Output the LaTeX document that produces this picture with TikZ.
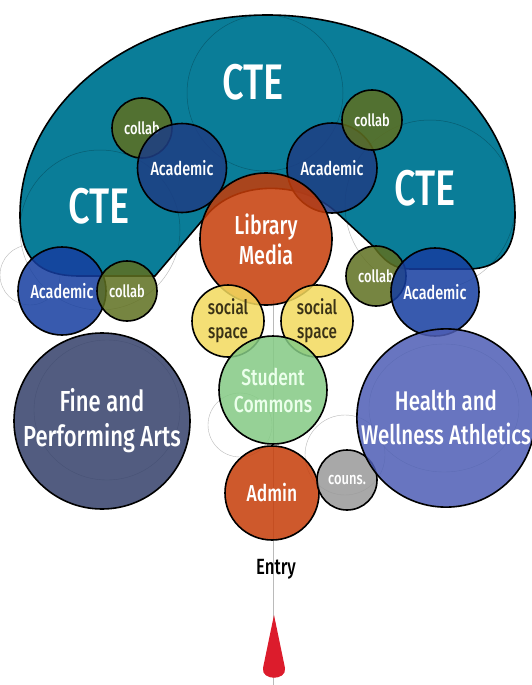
\documentclass[tikz,border=0pt]{standalone}
\usepackage{fontspec}
\setmainfont{Fira Sans}[FakeStretch=0.76, UprightFont={* Medium}]
\definecolor{teal1}{RGB}{10,125,152}
\definecolor{acadk}{RGB}{30,62,132}
\definecolor{acadl}{RGB}{22,62,160}
\definecolor{collabg}{RGB}{95,112,32}
\definecolor{orng}{RGB}{198,60,8}
\definecolor{soc}{RGB}{243,218,94}
\definecolor{socT}{RGB}{58,50,22}
\definecolor{comm}{RGB}{132,202,132}
\definecolor{cgray}{RGB}{153,153,153}
\definecolor{fine}{RGB}{52,64,106}
\definecolor{hlth}{RGB}{78,94,181}
\definecolor{dropr}{RGB}{220,28,44}
\tikzset{
  bub/.style={circle, draw=black, line width=1.6pt, fill opacity=0.85, text opacity=1,
    inner sep=0pt, align=center, text=white},
  sketch/.style={draw=black!60, line width=0.4pt, opacity=0.45},
  tsketch/.style={draw=black, line width=0.5pt, opacity=0.25},
  big/.style={text=white, inner sep=0pt}
}
\newcommand{\fs}[2]{\fontsize{#1}{#2}\selectfont}
\begin{document}
\begin{tikzpicture}[x=1pt,y=-1pt]
\useasboundingbox (0,0) rectangle (531,685);
\fill[white] (0,0) rectangle (531,685);
% faint sketch lines
\draw[sketch] (273,300) -- (273,685);
\draw[sketch] (107,410) ellipse [x radius=73, y radius=70];
\draw[sketch] (444,408) ellipse [x radius=75, y radius=64];
\draw[sketch] (345,455) circle [radius=40];
\draw[sketch] (240,425) circle [radius=32];
\draw[sketch] (30,275) circle [radius=30];
% CTE horseshoe
\draw[fill=teal1, line width=1.6pt]
  (155,276) -- (206,216) .. controls (235,180) and (300,180) .. (335,211)
  -- (374,247) .. controls (385,262) and (395,269) .. (410,269) -- (470,269)
  .. controls (500,268) and (515,250) .. (515,215)
  .. controls (515,104) and (404,15) .. (267.5,15)
  .. controls (131,15) and (20,104) .. (20,215)
  .. controls (20,260) and (40,276) .. (80,276) -- cycle;
\draw[tsketch] (265,93) circle [radius=78];
\draw[tsketch] (100,230) circle [radius=80];
\draw[tsketch] (430,205) circle [radius=85];
\node[big, font=\fs{50}{50}] (cte1) at (253,82) {CTE};
\node[big, font=\fs{50}{50}] (cte2) at (99,206) {CTE};
\node[big, font=\fs{50}{50}] (cte3) at (425,188) {CTE};
% academic / collab
\node[bub, fill=collabg, minimum size=60pt, font=\fs{17}{17}] (col1) at (142,128) {collab};
\node[bub, fill=acadk, minimum size=89pt, font=\fs{19}{19}] (ac1) at (182,168) {Academic};
\node[bub, fill=acadk, minimum size=90pt, font=\fs{19}{19}] (ac2) at (332,168) {Academic};
\node[bub, fill=collabg, minimum size=60pt, font=\fs{17}{17}] (col2) at (372,120) {collab};
\node[bub, fill=acadl, minimum size=88pt, font=\fs{19}{19}] (ac3) at (62,291) {Academic};
\node[bub, fill=collabg, minimum size=60pt, font=\fs{17}{17}] (col3) at (127,291) {collab};
\node[bub, fill=collabg, minimum size=60pt, font=\fs{17}{17}] (col4) at (376,276) {collab};
\node[bub, fill=acadl, minimum size=88pt, font=\fs{19}{19}] (ac4) at (435,292) {Academic};
% center spine
\node[bub, fill=orng, minimum size=132pt, font=\fs{26}{30}] (lib) at (266,239) {Library\\Media};
\node[bub, fill=soc, text=socT, minimum size=72pt, font=\fs{20}{24}] (soc1) at (228,321) {social\\space};
\node[bub, fill=soc, text=socT, minimum size=72pt, font=\fs{20}{24}] (soc2) at (317,321) {social\\space};
\node[bub, fill=comm, text=white!92!green, minimum size=108pt, font=\fs{23}{27}] (com) at (273,390) {Student\\Commons};
\node[bub, fill=orng, minimum size=94pt, font=\fs{23}{23}] (adm) at (272,493) {Admin};
\node[bub, fill=cgray, minimum size=60pt, font=\fs{17}{17}] (cou) at (347,480) {couns.};
% big wings
\node[bub, fill=fine, minimum size=176pt, font=\fs{29}{35}] (art) at (102,421) {Fine and\\Performing Arts};
\node[bub, fill=hlth, minimum size=166pt, font=\fs{27}{34}] (hw) at (446,418) {Health and\\Wellness Athletics};
% entry
\node[font=\fs{22}{22}, text=black, inner sep=0pt] (ent) at (276,569) {Entry};
\fill[dropr] (274,615) -- (285,668) .. controls (287,681) and (261,681) .. (263,668) -- cycle;
\end{tikzpicture}
\end{document}
